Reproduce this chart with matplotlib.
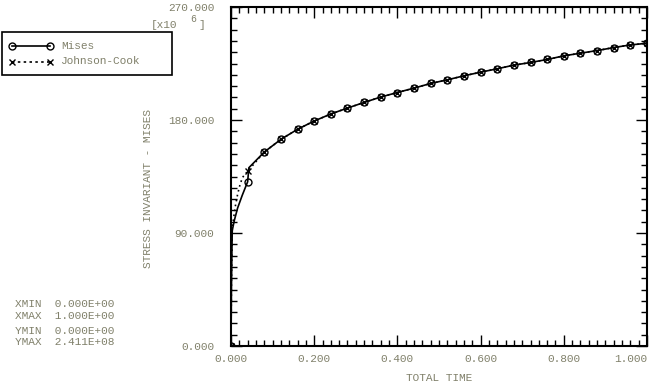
import numpy as np
import matplotlib
matplotlib.use("Agg")
import matplotlib.pyplot as plt
from matplotlib.lines import Line2D
from matplotlib.patches import Rectangle
from matplotlib.ticker import MultipleLocator, FormatStrFormatter

# time steps with markers (every 0.04) and stress values in units of 1e6
step_time = [0.00, 0.04, 0.08, 0.12, 0.16, 0.20, 0.24, 0.28, 0.32, 0.36, 0.40, 0.44, 0.48,
             0.52, 0.56, 0.60, 0.64, 0.68, 0.72, 0.76, 0.80, 0.84, 0.88, 0.92, 0.96, 1.00]
mises_steps = [0.0, 130.8, 154.5, 164.6, 172.6, 179.2, 184.8, 189.5, 194.0, 198.3, 201.9, 205.4, 209.1,
               212.0, 215.2, 218.1, 220.8, 223.7, 225.8, 228.2, 231.1, 233.2, 235.3, 237.7, 239.8, 241.1]
jc_steps = [0.0, 139.2, 154.5, 164.6, 172.6, 179.2, 184.8, 189.5, 194.0, 198.3, 201.9, 205.4, 209.1,
            212.0, 215.2, 218.1, 220.8, 223.7, 225.8, 228.2, 231.1, 233.2, 235.3, 237.7, 239.8, 241.1]

# extra increments near the start (no markers)
mises_early_t = [0.001, 0.002, 0.003, 0.008, 0.016, 0.027]
mises_early_s = [45.0, 72.0, 92.0, 100.0, 110.0, 120.0]
mises_late_t = [0.043]
mises_late_s = [142.0]
jc_early_t = [0.001, 0.003, 0.010, 0.016, 0.022, 0.028]
jc_early_s = [50.0, 94.0, 110.6, 121.0, 129.0, 134.4]

legend_names = ["Mises", "Johnson-Cook"]
stats_lines = ["XMIN  0.000E+00", "XMAX  1.000E+00", "YMIN  0.000E+00", "YMAX  2.411E+08"]

txt_col = "#80806a"
mono = "Liberation Mono"
plt.rcParams["font.family"] = [mono, "DejaVu Sans Mono"]
plt.rcParams["font.size"] = 8


def build(t_steps, s_steps, t_a, s_a, t_b=(), s_b=()):
    t = list(t_steps) + list(t_a) + list(t_b)
    s = list(s_steps) + list(s_a) + list(s_b)
    order = np.argsort(t)
    t = np.array(t)[order]
    s = np.array(s)[order]
    marked = [int(np.where(t == v)[0][0]) for v in t_steps]
    return t, s, marked


mt, ms, m_idx = build(step_time, mises_steps, mises_early_t, mises_early_s, mises_late_t, mises_late_s)
jt, js, j_idx = build(step_time, jc_steps, jc_early_t, jc_early_s)

fig = plt.figure(figsize=(6.5, 3.85), dpi=100)
ax = fig.add_axes([231 / 650, 39 / 385, 416 / 650, 339 / 385])

ax.plot(mt, ms, color="black", lw=1.2, marker="o", ms=5, mfc="none", mew=1.0, markevery=m_idx)
ax.plot(jt, js, color="black", lw=1.2, ls=(0, (1, 2)), marker="x", ms=5, mew=1.0, markevery=j_idx)

ax.set_xlim(0, 1.0)
ax.set_ylim(0, 270)
ax.xaxis.set_major_locator(MultipleLocator(0.2))
ax.xaxis.set_minor_locator(MultipleLocator(0.02))
ax.yaxis.set_major_locator(MultipleLocator(90))
ax.yaxis.set_minor_locator(MultipleLocator(9))
ax.xaxis.set_major_formatter(FormatStrFormatter("%.3f"))
ax.yaxis.set_major_formatter(FormatStrFormatter("%.3f"))
ax.tick_params(which="both", direction="in", top=True, right=True, colors="black",
               labelcolor=txt_col, width=1.0)
ax.tick_params(which="major", length=8)
ax.tick_params(which="minor", length=4)
ax.tick_params(axis="y", pad=12)
ax.tick_params(axis="x", pad=6)
for sp in ax.spines.values():
    sp.set_linewidth(1.5)

ax.set_xlabel("TOTAL TIME", color=txt_col, labelpad=6)
fig.text(148 / 650, 1 - 188 / 385, "STRESS INVARIANT - MISES", rotation=90,
         color=txt_col, ha="center", va="center")

# keep the last x label inside the figure
fig.canvas.draw()
for tick in ax.xaxis.get_major_ticks():
    if abs(tick.get_loc() - 1.0) < 1e-6:
        tick.label1.set_horizontalalignment("right")

# exponent label
fig.text(151 / 650, 1 - 25 / 385, "[x10", color=txt_col, ha="left", va="center")
fig.text(190 / 650, 1 - 19 / 385, "6", color=txt_col, ha="left", va="center", fontsize=7)
fig.text(199 / 650, 1 - 25 / 385, "]", color=txt_col, ha="left", va="center")

# legend box
fig.patches.append(Rectangle((2 / 650, 1 - 75 / 385), 170 / 650, 43 / 385,
                             transform=fig.transFigure, fill=False, edgecolor="black", lw=1.2))
fig.lines.append(Line2D([12 / 650, 50 / 650], [1 - 46 / 385] * 2, transform=fig.transFigure,
                        color="black", lw=1.2, marker="o", ms=5, mfc="none", mew=1.0))
fig.lines.append(Line2D([12 / 650, 50 / 650], [1 - 61.5 / 385] * 2, transform=fig.transFigure,
                        color="black", lw=1.2, ls=(0, (1.5, 2)), marker="x", ms=5, mew=1.0))
fig.text(61 / 650, 1 - 46 / 385, legend_names[0], color=txt_col, va="center")
fig.text(61 / 650, 1 - 61.5 / 385, legend_names[1], color=txt_col, va="center")

# min/max summary
for line, y in zip(stats_lines, [304, 316, 331, 342]):
    fig.text(15 / 650, 1 - y / 385, line, color=txt_col, va="center")

fig.savefig("out.png", dpi=100)
